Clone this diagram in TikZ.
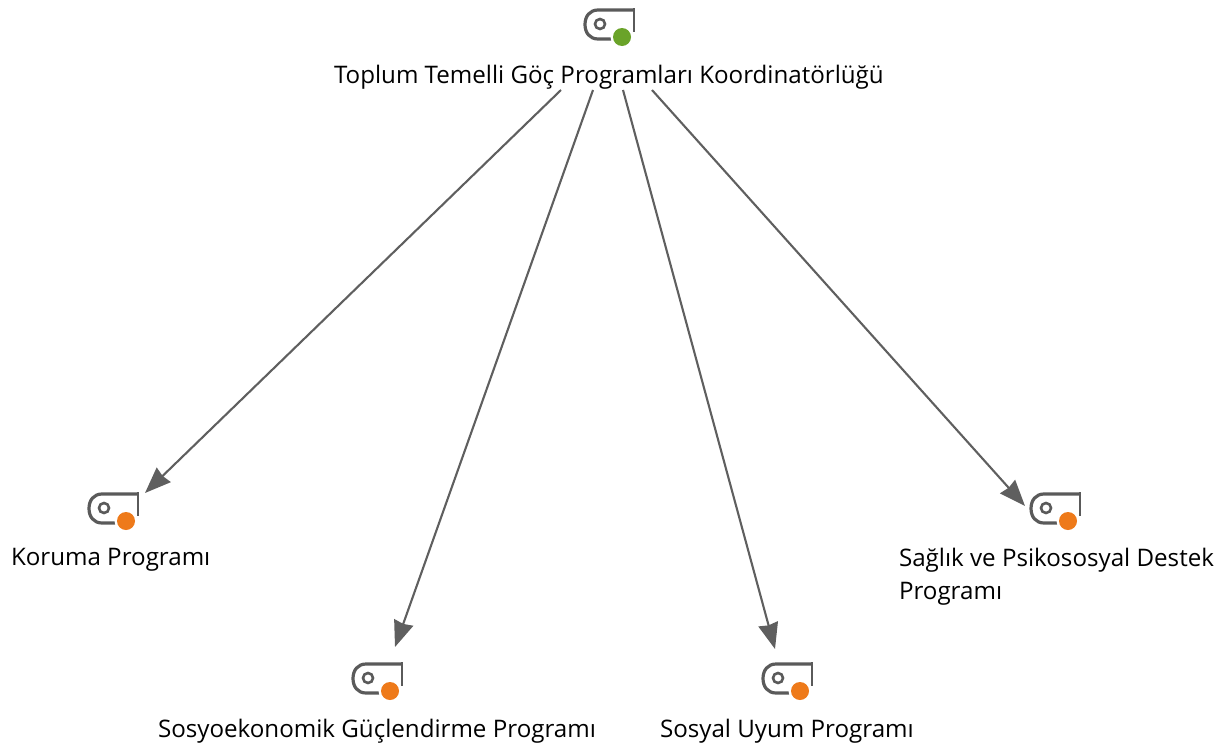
\documentclass[tikz,border=0pt]{standalone}
\usepackage{fontspec}
\setmainfont{Open Sans}
\usetikzlibrary{arrows.meta}
\definecolor{edgegray}{HTML}{5F5F5F}
\definecolor{icongray}{HTML}{5A5A5A}
\definecolor{dotgreen}{HTML}{6AA329}
\definecolor{dotorange}{HTML}{EE7A1A}
\tikzset{
  x=1pt,y=-1pt,
  lbl/.style={inner sep=0pt,outer sep=0pt,font=\fontsize{24.15}{33}\selectfont,anchor=west,align=left},
  conn/.style={draw=edgegray,line width=2.1pt,-{Stealth[length=26pt,width=20pt,inset=1.5pt]}},
  pics/tagicon/.style={code={
    \draw[icongray,line width=3.2pt,line join=round]
      (49,0) -- (13,0) .. controls (5,0) and (0,6) .. (0,14.5) .. controls (0,23) and (5,29) .. (13,29) -- (28,29);
    \draw[icongray,line width=2.5pt] (49,-1.6) -- (49,22);
    \draw[icongray,line width=2.6pt] (15,14) circle[radius=5pt];
    \fill[white] (37,27) circle[radius=11.5pt];
    \fill[#1] (37,27) circle[radius=9pt];
  }}
}
\begin{document}
\begin{tikzpicture}
\useasboundingbox (0,0) rectangle (1230,747);
\pic at (585,10) {tagicon=dotgreen};
\pic at (89,494) {tagicon=dotorange};
\pic at (353,664) {tagicon=dotorange};
\pic at (763,664) {tagicon=dotorange};
\pic at (1031,494) {tagicon=dotorange};
\node[lbl] (top) at (334,77) {Toplum Temelli Göç Programları Koordinatörlüğü};
\node[lbl] (koruma) at (11,560) {Koruma Programı};
\node[lbl] (sosyo) at (158,731) {Sosyoekonomik Güçlendirme Programı};
\node[lbl] (uyum) at (660,731) {Sosyal Uyum Programı};
\node[lbl] (saglik) at (899,577) {Sağlık ve Psikososyal Destek\\Programı};
\coordinate (s1) at (561,90);
\coordinate (s2) at (593,90);
\coordinate (s3) at (623,90);
\coordinate (s4) at (652,90);
\coordinate (e1) at (145,493);
\coordinate (e2) at (395,647);
\coordinate (e3) at (775,649);
\coordinate (e4) at (1025,506);
\draw[conn] (s1) -- (e1);
\draw[conn] (s2) -- (e2);
\draw[conn] (s3) -- (e3);
\draw[conn] (s4) -- (e4);
\end{tikzpicture}
\end{document}
